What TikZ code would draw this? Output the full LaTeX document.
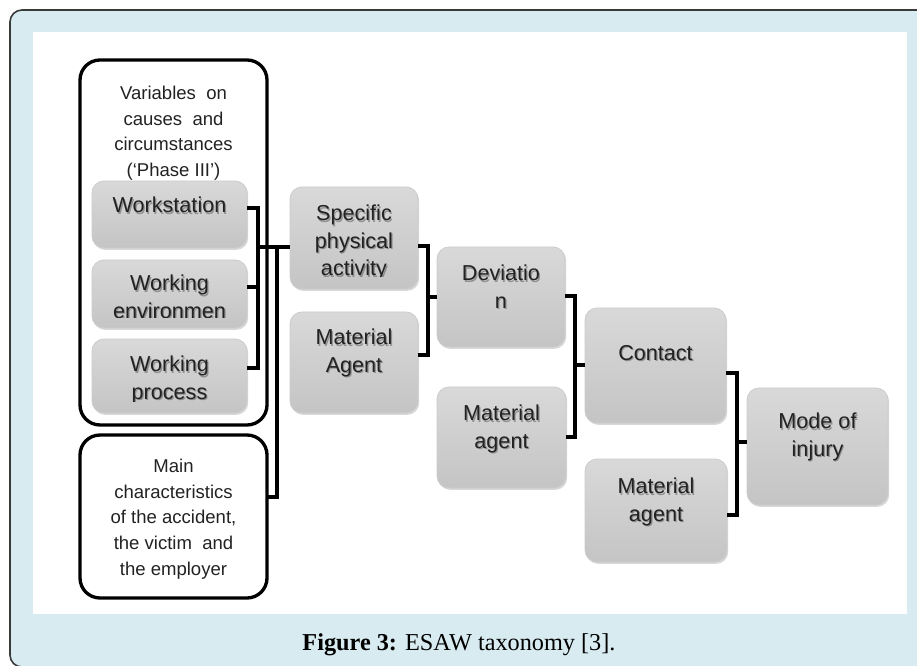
\documentclass[tikz,border=0pt]{standalone}
\usepackage{fontspec}
\setmainfont{Liberation Sans}
\newfontfamily\capfont{Liberation Serif}
\usetikzlibrary{shadows}

\definecolor{panelblue}{HTML}{D7EBF1}
\definecolor{framegray}{HTML}{3A3A3A}
\definecolor{inkgray}{HTML}{222222}

\tikzset{
  gbox/.style={rectangle, rounded corners=9pt, draw=gray!40, line width=0.6pt,
    top color=gray!30, bottom color=gray!46,
    drop shadow={shadow xshift=0.9pt, shadow yshift=-1.4pt, opacity=0.3},
    anchor=north west, inner sep=0pt, outer sep=0pt},
  obox/.style={rectangle, rounded corners=15pt, draw=black, line width=2.5pt,
    fill=white, anchor=north west, inner sep=0pt, outer sep=0pt},
  btext/.style={font=\fontsize{16.2}{20.6}\selectfont, text=inkgray, align=center,
    anchor=north, inner sep=0pt},
  stext/.style={font=\fontsize{13.9}{19.2}\selectfont, text=inkgray, align=center,
    anchor=north, inner sep=0pt},
  conn/.style={line width=2.4pt, draw=black},
}

% block from (x1,y1) to (x2,y2), coordinates in pixels, y downwards
\newcommand\grayblock[5]{%
  \node[gbox, minimum width={(#4-#2)*0.75pt}, minimum height={(#5-#3)*0.75pt}] (#1) at (#2,#3) {};}
\newcommand\outlineblock[5]{%
  \node[obox, minimum width={(#4-#2)*0.75pt}, minimum height={(#5-#3)*0.75pt}] (#1) at (#2,#3) {};}
% block label with a soft shadow behind it: name, x, y, text
\newcommand\blocklabel[4]{%
  \node[btext, text=black, opacity=0.3] (#1-s) at ([xshift=0.9pt,yshift=-1.1pt]#2,#3) {#4};
  \node[btext] (#1) at (#2,#3) {#4};}

\begin{document}
\begin{tikzpicture}[x=0.75pt,y=-0.75pt]
  \clip (0,0) rectangle (917,666);

  % panel and white drawing area
  \draw[framegray, line width=1.2pt, rounded corners=9pt, fill=panelblue] (10,10) rectangle (940,667);
  \fill[white] (33,32) rectangle (907,614);

  % outlined groups
  \outlineblock{vbox}{80}{60}{267}{425}
  \outlineblock{mbox}{80}{435}{267}{598}
  \node[stext] (vbox-t) at (173.5,86) {Variables~ on\\causes~ and\\circumstances\\(‘Phase III’)};
  \node[stext] (mbox-t) at (173.5,459) {Main\\characteristics\\of the accident,\\the victim~ and\\the employer};

  % gray blocks
  \grayblock{ws}{92}{181}{247}{248}
  \grayblock{we}{92}{260}{247}{328}
  \grayblock{wp}{92}{339}{247}{413}
  \grayblock{spa}{290}{187}{418}{289}
  \grayblock{ma1}{290}{312}{418}{413}
  \grayblock{dev}{437}{247}{565}{347}
  \grayblock{ma2}{437}{387}{566}{488}
  \grayblock{con}{585}{308}{726}{423}
  \grayblock{ma3}{585}{459}{727}{562}
  \grayblock{mode}{747}{388}{888}{505}

  % block labels (overflowing lines are cut off by the text frame)
  \blocklabel{ws-t}{169.5}{197}{Workstation}
  \begin{scope}
    \clip (92,260) rectangle (247,318);
    \blocklabel{we-t}{169.5}{275}{Working\\environmen\\t}
  \end{scope}
  \begin{scope}
    \clip (92,339) rectangle (247,401);
    \blocklabel{wp-t}{169.5}{356}{Working\\process}
  \end{scope}
  \begin{scope}
    \clip (290,187) rectangle (418,277);
    \blocklabel{spa-t}{354}{205}{Specific\\physical\\activity}
  \end{scope}
  \blocklabel{ma1-t}{354}{329}{Material\\Agent}
  \blocklabel{dev-t}{501}{265}{Deviatio\\n}
  \blocklabel{ma2-t}{501.5}{405}{Material\\agent}
  \blocklabel{con-t}{655.5}{345}{Contact}
  \blocklabel{ma3-t}{656}{478}{Material\\agent}
  \blocklabel{mode-t}{817.5}{413}{Mode of\\injury}

  % bracket connectors
  \coordinate (jA) at (258,247);
  \coordinate (jB) at (277,247);
  \coordinate (jC) at (428,297);
  \coordinate (jD) at (575,365);
  \coordinate (jE) at (737,442);

  \draw[conn] (ws.east |- 0,208) -| (jA) |- (wp.east |- 0,368);
  \draw[conn] (we.east |- 0,287) -- ++(11,0);
  \draw[conn] (jA) -- (spa.west |- jA);
  \draw[conn] (jB) |- (mbox.east |- 0,497);

  \draw[conn] (spa.east |- 0,246) -| (jC) |- (ma1.east |- 0,355);
  \draw[conn] (jC) -- (dev.west |- jC);

  \draw[conn] (dev.east |- 0,296) -| (jD) |- (ma2.east |- 0,437);
  \draw[conn] (jD) -- (con.west |- jD);

  \draw[conn] (con.east |- 0,373) -| (jE) |- (ma3.east |- 0,515);
  \draw[conn] (jE) -- (mode.west |- jE);

  % caption
  \node[font=\capfont\fontsize{18.2}{20}\selectfont, anchor=base, text=black] (cap) at (459,650)
    {\textbf{Figure 3:} ESAW taxonomy [3].};
\end{tikzpicture}
\end{document}
